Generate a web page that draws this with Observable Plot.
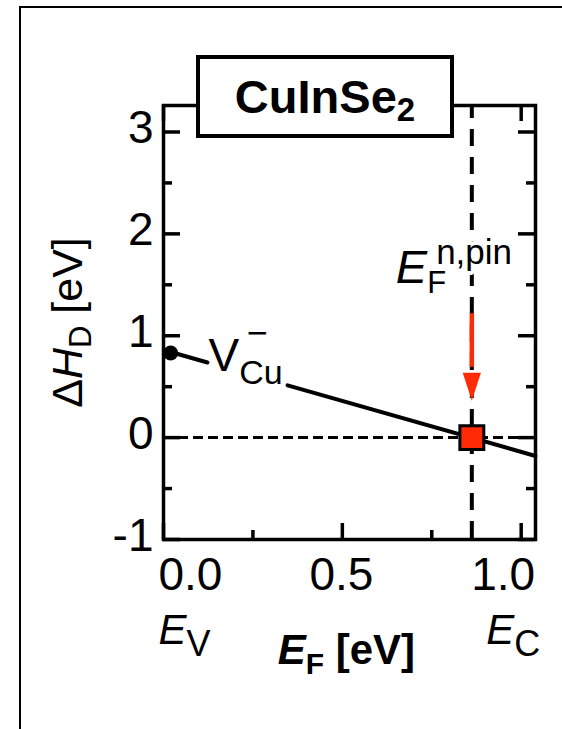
<!DOCTYPE html>
<html>
<head>
<meta charset="utf-8">
<script src="https://cdn.jsdelivr.net/npm/d3@7"></script>
<script src="https://cdn.jsdelivr.net/npm/@observablehq/plot@0.6"></script>
<style>
  html, body { margin: 0; padding: 0; background: #fff; width: 562px; height: 729px; overflow: hidden; }
  #wrap { position: relative; width: 562px; height: 729px; overflow: hidden; }
  #frame { position: absolute; left: 19px; top: 6px; width: 700px; height: 900px; border: 2px solid #000; box-sizing: border-box; }
  #chart { position: absolute; left: 0; top: 0; }
  #title {
    position: absolute; left: 196px; top: 55px; width: 258px; height: 83px;
    border: 4.5px solid #000; box-sizing: border-box; background: #fff;
    font-family: "Liberation Sans", Arial, Helvetica, sans-serif; font-weight: bold; font-size: 47px;
    line-height: 54px; display: flex; align-items: center; justify-content: center;
  }
  #title .sub { font-size: 33px; position: relative; top: 13px; line-height: 0; }
</style>
</head>
<body>
<div id="wrap">
  <div id="frame"></div>
  <div id="chart"></div>
  <div id="title">CuInSe<span class="sub">2</span></div>
</div>
<script>
// Axis extents and ticks (Fermi level in eV, formation energy in eV)
const xDomain = [0, 1.04];
const yDomain = [-1, 3.26];
const xMajor = [0, 0.5, 1.0];
const xMinor = [0.25, 0.75];
const yMajor = [-1, 0, 1, 2, 3];
const yMinor = [-0.5, 0.5, 1.5, 2.5];
const xTickLabels = ["0.0", "0.5", "1.0"];
const yTickLabels = ["-1", "0", "1", "2", "3"];

// V_Cu(-) formation energy vs. Fermi level, split where the label sits
const vcuSegA = [{ef: 0.02, dh: 0.84}, {ef: 0.123, dh: 0.737}];
const vcuSegB = [{ef: 0.347, dh: 0.513}, {ef: 1.04, dh: -0.18}];
const vcuDot = [{ef: 0.02, dh: 0.83}];
const vcuLabel = [{ef: 0.126, dh: 0.657}];

// n-type Fermi-level pinning energy
const pinEF = 0.862;
const pinPoint = [{ef: 0.862, dh: 0}];
const pinArrow = {from: 1.216, to: 0.363};
const pinLabelY = 1.52;

const W = 562, H = 729;
const M = {top: 105, right: 27, bottom: 190, left: 163};
const FW = W - M.left - M.right;
const FH = H - M.top - M.bottom;
const SANS = '"Liberation Sans", Arial, Helvetica, sans-serif';
const RED = "#ff2a06";
const AX = 3.5;

// narrow downward-pointing arrowhead, tip at the origin
const arrowHead = {
  draw(ctx, size) {
    const r = Math.sqrt(size / Math.PI);
    const h = 2 * r, w = 1.3 * r;
    ctx.moveTo(0, 0);
    ctx.lineTo(-w / 2, -h);
    ctx.lineTo(w / 2, -h);
    ctx.closePath();
  }
};

const xLabelPlacement = [
  {textAnchor: "start", dx: -5},
  {textAnchor: "middle", dx: -1},
  {textAnchor: "end", dx: 14}
];

const plot = Plot.plot({
  width: W, height: H,
  marginTop: M.top, marginRight: M.right, marginBottom: M.bottom, marginLeft: M.left,
  x: {domain: xDomain, axis: null},
  y: {domain: yDomain, axis: null},
  style: {fontFamily: SANS, background: "transparent", overflow: "visible", color: "black"},
  marks: [
    // reference lines
    Plot.ruleY([0], {stroke: "black", strokeWidth: 3, strokeDasharray: "10,5"}),
    Plot.ruleX([pinEF], {stroke: "black", strokeWidth: 4, strokeDasharray: "17,11", strokeDashoffset: 4}),

    // ticks on all four sides, pointing inward
    Plot.tickY(yMajor, {y: d => d, insetRight: FW - 17, strokeWidth: AX}),
    Plot.tickY(yMinor, {y: d => d, insetRight: FW - 9, strokeWidth: AX}),
    Plot.tickY(yMajor, {y: d => d, insetLeft: FW - 17, strokeWidth: AX}),
    Plot.tickY(yMinor, {y: d => d, insetLeft: FW - 9, strokeWidth: AX}),
    Plot.tickX(xMajor, {x: d => d, insetTop: FH - 16, strokeWidth: AX}),
    Plot.tickX(xMinor, {x: d => d, insetTop: FH - 9, strokeWidth: AX}),
    Plot.tickX(xMajor, {x: d => d, insetBottom: FH - 16, strokeWidth: AX}),
    Plot.tickX(xMinor, {x: d => d, insetBottom: FH - 9, strokeWidth: AX}),
    Plot.frame({stroke: "black", strokeWidth: AX}),

    // tick labels
    Plot.text(yMajor, {
      y: d => d, text: (d, i) => yTickLabels[i], frameAnchor: "left",
      textAnchor: "end", lineAnchor: "bottom", dx: -10, dy: 11.5, fontSize: 46
    }),
    ...xMajor.map((v, i) => Plot.text([v], {
      x: d => d, text: () => xTickLabels[i], frameAnchor: "bottom",
      lineAnchor: "bottom", dy: 50, fontSize: 46, ...xLabelPlacement[i]
    })),

    // band-edge and axis titles
    Plot.text([xMajor[0]], {x: d => d, text: () => "EV", frameAnchor: "bottom", textAnchor: "start", lineAnchor: "bottom", dx: -5, dy: 104, fontSize: 42}),
    Plot.text([xMajor[2]], {x: d => d, text: () => "EC", frameAnchor: "bottom", textAnchor: "end", lineAnchor: "bottom", dx: 19, dy: 104, fontSize: 42}),
    Plot.text([xMajor[1]], {x: d => d, text: () => "EF [eV]", frameAnchor: "bottom", textAnchor: "middle", lineAnchor: "bottom", dx: 4, dy: 124, fontSize: 42, fontWeight: "bold"}),
    Plot.text(["ΔHD [eV]"], {frameAnchor: "left", rotate: -90, textAnchor: "middle", lineAnchor: "bottom", dx: -82, fontSize: 43}),

    // V_Cu(-) line, end point and label
    Plot.line(vcuSegA, {x: "ef", y: "dh", stroke: "black", strokeWidth: 4}),
    Plot.line(vcuSegB, {x: "ef", y: "dh", stroke: "black", strokeWidth: 4}),
    Plot.dot(vcuDot, {x: "ef", y: "dh", r: 7.5, fill: "black"}),
    Plot.text(vcuLabel, {x: "ef", y: "dh", text: () => "VCu−", textAnchor: "start", lineAnchor: "bottom", fontSize: 46}),

    // pinning level marker, arrow and label
    Plot.ruleX([pinEF], {y1: pinArrow.from, y2: (pinArrow.from + pinArrow.to) / 2 - 0.1, stroke: RED, strokeWidth: 4.5}),
    Plot.dot([pinEF], {x: d => d, y: () => pinArrow.to, symbol: arrowHead, r: 14, fill: RED, stroke: "none"}),
    Plot.dot(pinPoint, {x: "ef", y: "dh", symbol: "square", r: 13.5, fill: RED, stroke: "black", strokeWidth: 3}),
    Plot.text([pinEF], {x: d => d, y: () => pinLabelY, text: () => "EFn,pin", textAnchor: "start", lineAnchor: "bottom", dx: -76, fontSize: 47, stroke: "white", strokeWidth: 8, fill: "black"})
  ]
});

document.getElementById("chart").appendChild(plot);

// rich text: italics, subscripts and superscripts as tspans
function richText(svg, label, parts) {
  for (const el of svg.querySelectorAll("text")) {
    if (el.textContent !== label) continue;
    el.textContent = "";
    let shift = 0;
    for (const p of parts) {
      const ts = document.createElementNS("http://www.w3.org/2000/svg", "tspan");
      ts.textContent = p.t;
      if (p.size) ts.setAttribute("font-size", p.size);
      if (p.italic) ts.setAttribute("font-style", "italic");
      const s = p.shift || 0;
      if (s !== shift) { ts.setAttribute("dy", s - shift); shift = s; }
      if (p.dx) ts.setAttribute("dx", p.dx);
      el.appendChild(ts);
    }
  }
}

richText(plot, "EV", [{t: "E", italic: true, size: 42}, {t: "V", size: 36, shift: 12}]);
richText(plot, "EC", [{t: "E", italic: true, size: 42}, {t: "C", size: 36, shift: 12}]);
richText(plot, "EF [eV]", [{t: "E", italic: true, size: 42}, {t: "F", size: 30, shift: 10}, {t: " [eV]", size: 42, shift: 0}]);
richText(plot, "ΔHD [eV]", [{t: "Δ", size: 43}, {t: "H", italic: true, size: 43}, {t: "D", size: 31, shift: 9}, {t: " [eV]", size: 43, shift: 0}]);
richText(plot, "VCu−", [{t: "V", size: 46}, {t: "Cu", size: 34, shift: 13}, {t: "−", size: 36, shift: -26, dx: -36}]);
richText(plot, "EFn,pin", [{t: "E", italic: true, size: 47}, {t: "F", size: 31, shift: 10}, {t: "n,pin", size: 35, shift: -19, dx: -10}]);
</script>
</body>
</html>
